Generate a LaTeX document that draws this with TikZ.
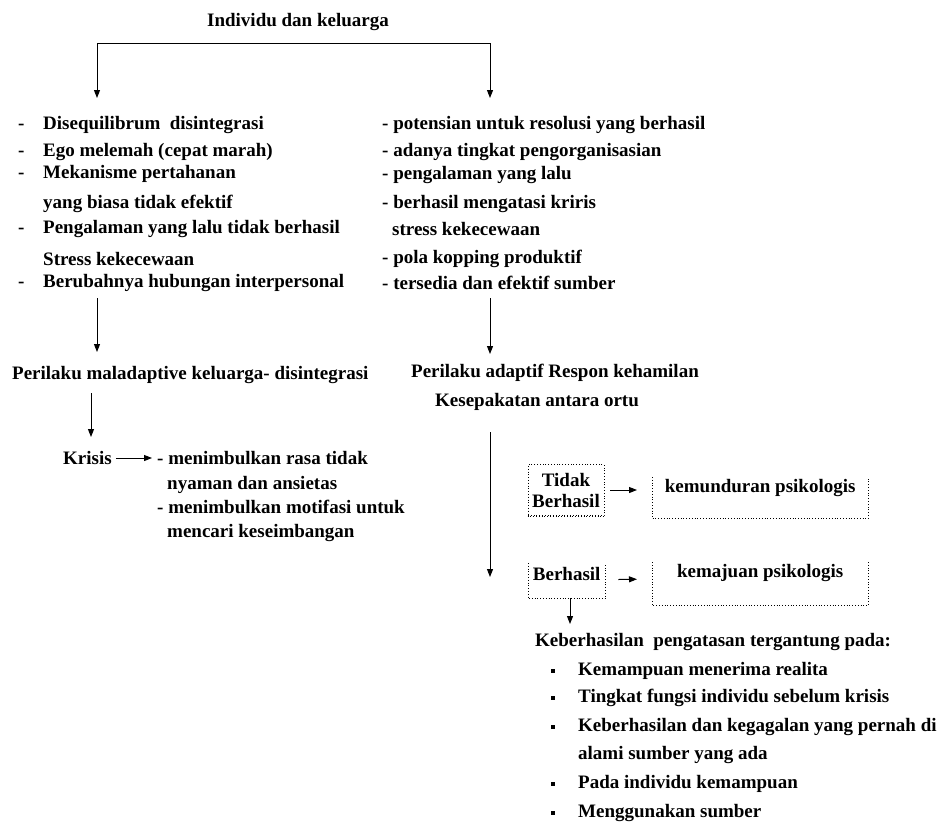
\documentclass[tikz,border=0pt]{standalone}
\usepackage{fontspec}
\setmainfont{Liberation Serif}
\usetikzlibrary{arrows.meta, positioning}

\begin{document}
\begin{tikzpicture}[x=1pt, y=-1pt, font=\bfseries\fontsize{19}{22}\selectfont,
		txt/.style={anchor=west, inner sep=0pt},
		dashmark/.style={anchor=base west, inner sep=0pt},
		arr/.style={-{Triangle[length=8pt, width=6pt]}, line width=1pt},
		dotbox/.style={dotted, line width=0.8pt},
		sqbullet/.style={fill, minimum size=4.5pt, inner sep=0pt}]
			\useasboundingbox (0,0) rectangle (943,822);
			% Top and bracket:
			\node[inner sep=0pt] (title) at (298,22) {Individu dan keluarga};
			\coordinate (brL) at (97,43);
			\coordinate (brR) at (490,43);
			\coordinate (inL) at (97,98);
			\coordinate (inR) at (490,98);
			\draw[line width=1pt] (brL) -- (brR);
			\draw[arr] (brL) -- (inL);
			\draw[arr] (brR) -- (inR);
			% Left list:
			\node[txt] (l1) at (43,125) {Disequilibrum\ \ disintegrasi};
			\node[txt] (l2) at (43,152) {Ego melemah (cepat marah)};
			\node[txt] (l3) at (43,174) {Mekanisme pertahanan};
			\node[txt] (l4) at (43,204) {yang biasa tidak efektif};
			\node[txt] (l5) at (43,229) {Pengalaman yang lalu tidak berhasil};
			\node[txt] (l6) at (43,259) {Stress kekecewaan};
			\node[txt] (l7) at (43,283) {Berubahnya hubungan interpersonal};
			\node[dashmark] (dl1) at ([xshift=-25pt]l1.base west) {-};
			\node[dashmark] (dl2) at ([xshift=-25pt]l2.base west) {-};
			\node[dashmark] (dl3) at ([xshift=-25pt]l3.base west) {-};
			\node[dashmark] (dl5) at ([xshift=-25pt]l5.base west) {-};
			\node[dashmark] (dl7) at ([xshift=-25pt]l7.base west) {-};
			% Right list:
			\node[txt] (r1) at (382,125) {- potensian untuk resolusi yang berhasil};
			\node[txt] (r2) at (382,152) {- adanya tingkat pengorganisasian};
			\node[txt] (r3) at (382,175) {- pengalaman yang lalu};
			\node[txt] (r4) at (382,204) {- berhasil mengatasi kriris};
			\node[txt] (r5) at (392,229) {stress kekecewaan};
			\node[txt] (r6) at (382,259) {- pola kopping produktif};
			\node[txt] (r7) at (382,283) {- tersedia dan efektif sumber};
			% Left branch:
			\coordinate (malTop) at (97,298);
			\coordinate (malEnd) at (97,352);
			\draw[arr] (malTop) -- (malEnd);
			\node[txt] (mal) at (12,375) {Perilaku maladaptive keluarga- disintegrasi};
			\coordinate (krTop) at (91,393);
			\coordinate (krEnd) at (91,437);
			\draw[arr] (krTop) -- (krEnd);
			\node[txt] (kr) at (63,458) {Krisis};
			\node[txt] (k1) at (157,458) {- menimbulkan rasa tidak};
			\node[txt] (k2) at (167,485) {nyaman dan ansietas};
			\node[txt] (k3) at (157,507) {- menimbulkan motifasi untuk};
			\node[txt] (k4) at (167,533) {mencari keseimbangan};
			\draw[arr, shorten <=4pt, shorten >=5pt] (kr) -- (k1);
			% Right branch:
			\coordinate (adTop) at (490,298);
			\coordinate (adEnd) at (490,354);
			\draw[arr] (adTop) -- (adEnd);
			\node[inner sep=0pt] (ad) at (555,373) {Perilaku adaptif Respon kehamilan};
			\node[inner sep=0pt] (sp) at (537,402) {Kesepakatan antara ortu};
			\coordinate (vTop) at (490,432);
			\coordinate (vEnd) at (490,577);
			\draw[arr] (vTop) -- (vEnd);
			\node[draw, dotbox, align=center, inner sep=0pt, minimum width=76pt, minimum height=51pt] (tb) at (566,490) {Tidak\\[-1pt]Berhasil};
			\draw[dotbox] (tb.south west) -- (tb.south east);
			\node[anchor=north west, inner sep=0pt, minimum width=216pt, text height=15pt, text depth=26pt] (km) at (652,477) {kemunduran psikologis};
			\draw[dotbox] (km.north west) |- (km.south east) -- (km.north east);
			\draw[arr, shorten <=6pt, shorten >=15pt] (tb) -- (tb -| km.west);
			\node[anchor=north west, inner sep=0pt, minimum width=77pt, text height=17pt, text depth=18pt] (bh) at (528,563) {Berhasil};
			\draw[dotbox] (bh.north west) |- (bh.south east) -- (bh.north east);
			\node[anchor=north west, inner sep=0pt, minimum width=216pt, text height=15pt, text depth=28pt] (kj) at (652,562) {kemajuan psikologis};
			\draw[dotbox] (kj.north west) |- (kj.south east) -- (kj.north east);
			\draw[arr, shorten <=13pt, shorten >=15pt] (bh.east) ++(0,-1) -- (kj.west |- 0,579);
			% Success factors:
			\node[txt] (kp) at (535,642) {Keberhasilan\ \ pengatasan tergantung pada:};
			\coordinate (kpTop) at (570,624);
			\draw[arr] (bh.south -| kpTop) -- (kpTop);
			\node[sqbullet] (b1) at (553,671) {};
			\node[txt] (f1) at (578,671) {Kemampuan menerima realita};
			\node[sqbullet] (b2) at (553,698) {};
			\node[txt] (f2) at (578,698) {Tingkat fungsi individu sebelum krisis};
			\node[sqbullet] (b3) at (553,727) {};
			\node[txt] (f3) at (578,727) {Keberhasilan dan kegagalan yang pernah di};
			\node[txt] (f4) at (578,755) {alami sumber yang ada};
			\node[sqbullet] (b5) at (553,784) {};
			\node[txt] (f5) at (578,784) {Pada individu kemampuan};
			\node[sqbullet] (b6) at (553,813) {};
			\node[txt] (f6) at (578,813) {Menggunakan sumber};
		\end{tikzpicture}
\end{document}
